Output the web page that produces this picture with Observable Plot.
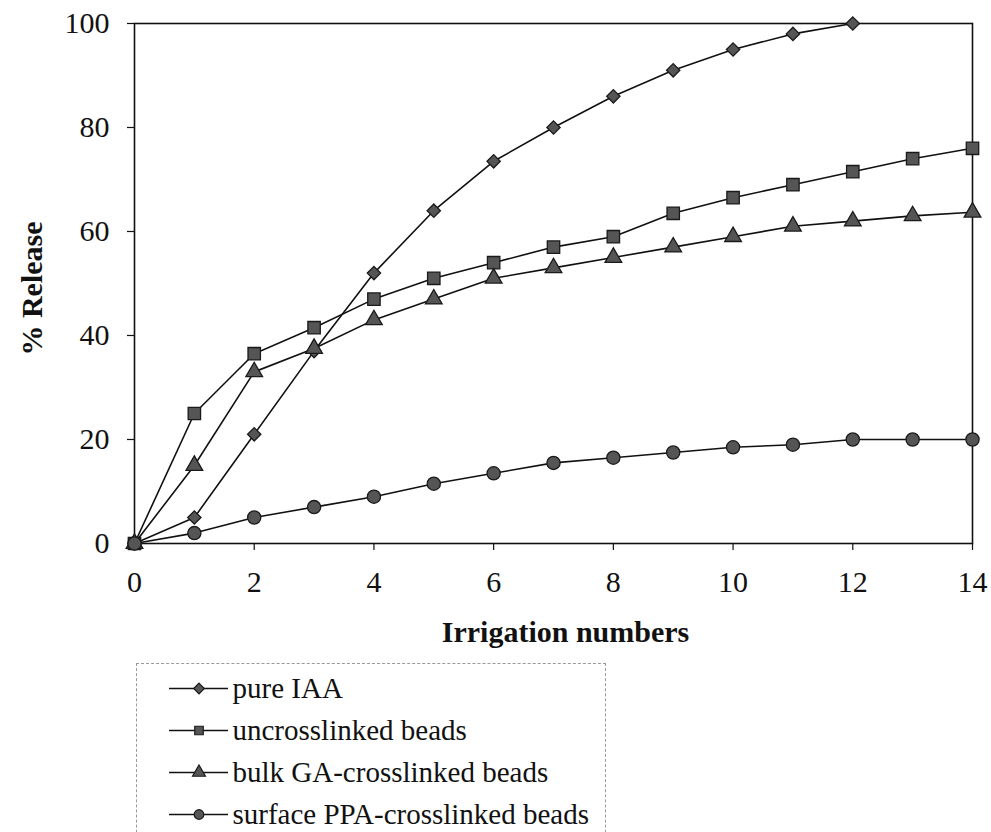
<!DOCTYPE html>
<html>
<head>
<meta charset="utf-8">
<script src="https://cdn.jsdelivr.net/npm/d3@7"></script>
<script src="https://cdn.jsdelivr.net/npm/@observablehq/plot@0.6"></script>
<style>
  html, body { margin: 0; padding: 0; background: #fff; }
  #wrap { position: relative; width: 991px; height: 832px; overflow: hidden; }
  #legend { position: absolute; left: 136px; top: 663px; width: 470px; border: 1px dashed #9a9a9a; border-bottom: none; height: 200px; box-sizing: border-box; overflow: hidden; }
  #legend svg { max-width: none !important; }
  svg { font-family: "Liberation Serif", "Times New Roman", serif; }
</style>
</head>
<body>
<div id="wrap"><div id="chart"></div><div id="legend"></div></div>
<script>
// ---- data ----
const irrigation = [0,1,2,3,4,5,6,7,8,9,10,11,12,13,14];
const seriesNames = ["pure IAA", "uncrosslinked beads", "bulk GA-crosslinked beads", "surface PPA-crosslinked beads"];
const pureIAA       = [0, 5, 21, 37, 52, 64, 73.5, 80, 86, 91, 95, 98, 100];
const uncrosslinked = [0, 25, 36.5, 41.5, 47, 51, 54, 57, 59, 63.5, 66.5, 69, 71.5, 74, 76];
const bulkGA        = [0, 15, 33, 37.5, 43, 47, 51, 53, 55, 57, 59, 61, 62, 63, 63.7];
const surfacePPA    = [0, 2, 5, 7, 9, 11.5, 13.5, 15.5, 16.5, 17.5, 18.5, 19, 20, 20, 20];
const xTicks = [0, 2, 4, 6, 8, 10, 12, 14];
const yTicks = [0, 20, 40, 60, 80, 100];
const symbols = ["diamond2", "square", "triangle", "circle"];

// marker radius per symbol (style)
const markerR = {"diamond2": 6, "square": 7, "triangle": 6.2, "circle": 6.6};

const seriesValues = [pureIAA, uncrosslinked, bulkGA, surfacePPA];
const rows = [];
seriesValues.forEach((vals, i) => vals.forEach((v, j) => rows.push({series: seriesNames[i], sym: symbols[i], x: irrigation[j], y: v})));

const symbolScale = {domain: seriesNames, range: symbols};

const dotMarks = symbols.map(s => Plot.dot(rows.filter(d => d.sym === s), {
  x: "x", y: "y", symbol: "series", r: markerR[s], fill: "#555", stroke: "#1a1a1a", strokeWidth: 1.3
}));

const chart = Plot.plot({
  width: 991,
  height: 660,
  marginLeft: 134,
  marginRight: 19,
  marginTop: 23,
  marginBottom: 117,
  style: {fontFamily: "Liberation Serif, serif", fontSize: "30px", color: "#111", background: "white"},
  x: {domain: [0, 14], label: null},
  y: {domain: [0, 100], label: null},
  symbol: symbolScale,
  marks: [
    Plot.frame({stroke: "#111", strokeWidth: 1.6}),
    Plot.axisX({ticks: xTicks, tickSize: 7, tickPadding: 20, fontSize: 30, stroke: "#111", strokeWidth: 1.2, label: null}),
    Plot.axisY({ticks: yTicks, tickSize: 7, tickPadding: 18, fontSize: 30, stroke: "#111", strokeWidth: 1.2, label: null}),
    Plot.line(rows, {x: "x", y: "y", z: "series", stroke: "#111", strokeWidth: 1.6}),
    ...dotMarks,
    Plot.text(["Irrigation numbers"], {frameAnchor: "bottom", dx: 12, dy: 98, text: d => d, fontWeight: "bold", fontSize: 30, fill: "#111"}),
    Plot.text(["% Release"], {frameAnchor: "left", textAnchor: "middle", dx: -102, dy: 5, rotate: -90, text: d => d, fontWeight: "bold", fontSize: 30, fill: "#111"})
  ]
});
document.getElementById("chart").appendChild(chart);

// legend drawn with Plot
const legend = Plot.plot({
  width: 640,
  height: 200,
  margin: 0,
  x: {domain: [0, 1], range: [32, 91], axis: null},
  y: {type: "point", domain: seriesNames, range: [24, 150], padding: 0, axis: null},
  symbol: symbolScale,
  style: {fontFamily: "Liberation Serif, serif", background: "transparent", maxWidth: "none"},
  marks: [
    Plot.ruleY(seriesNames, {y: d => d, x1: 0, x2: 1, stroke: "#111", strokeWidth: 1.6}),
    Plot.dot(seriesNames, {x: 0.5, y: d => d, symbol: d => d, r: 4.8, fill: "#555", stroke: "#1a1a1a", strokeWidth: 1.2}),
    Plot.text(seriesNames, {x: 1, dx: 4, y: d => d, text: d => d, textAnchor: "start", fontSize: 29, fill: "#111"})
  ]
});
document.getElementById("legend").appendChild(legend);
</script>
</body>
</html>
